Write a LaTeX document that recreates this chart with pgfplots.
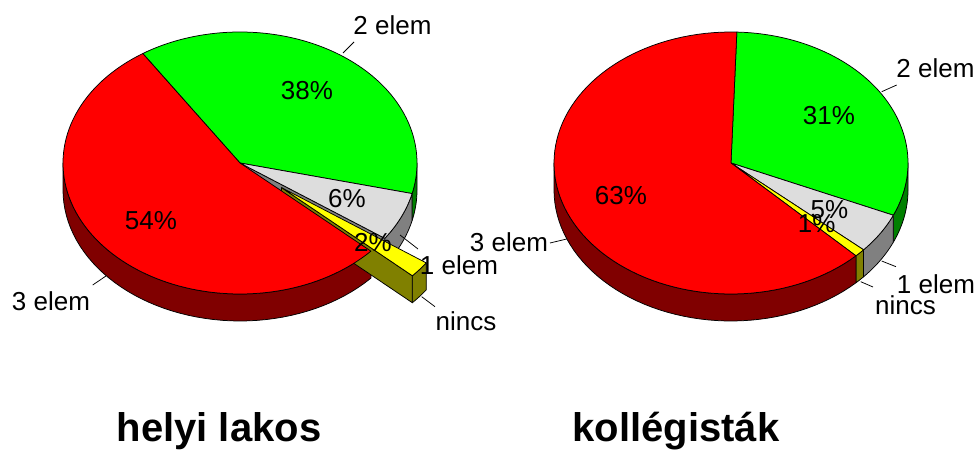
\documentclass[border=0pt]{standalone}
\usepackage{fontspec}
\setmainfont{Liberation Sans}
\usepackage{pgfplots}
\pgfplotsset{compat=1.18}
\usepgfplotslibrary{fillbetween}

\definecolor{gtop}{RGB}{0,255,0}
\definecolor{gside}{RGB}{0,128,0}
\definecolor{ltop}{RGB}{221,221,221}
\definecolor{lside}{RGB}{128,128,128}
\definecolor{ytop}{RGB}{255,255,0}
\definecolor{yside}{RGB}{128,128,0}
\definecolor{rtop}{RGB}{255,0,0}
\definecolor{rside}{RGB}{128,0,0}

% ---- data (percent) : 2 elem, 1 elem, nincs, 3 elem
\def\LA{38}\def\LB{6}\def\LC{2}\def\LD{54}   % helyi lakos
\def\RA{31}\def\RB{5}\def\RC{1}\def\RD{63}   % kollegistak

% ---- geometry
\def\RX{177}\def\RY{131}\def\D{27}
\def\Lcx{240}\def\Lcy{163}
\def\Rcx{731}\def\Rcy{163}

\pgfmathsetmacro\LsA{-33.3}
\pgfmathsetmacro\LsB{\LsA+3.6*\LA}
\pgfmathsetmacro\LsC{\LsB+3.6*\LB}
\pgfmathsetmacro\LsD{\LsC+3.6*\LC}
\pgfmathsetmacro\LsE{\LsD+3.6*\LD}

\pgfmathsetmacro\RsA{1.9}
\pgfmathsetmacro\RsB{\RsA+3.6*\RA}
\pgfmathsetmacro\RsC{\RsB+3.6*\RB}
\pgfmathsetmacro\RsD{\RsC+3.6*\RC}
\pgfmathsetmacro\RsE{\RsD+3.6*\RD}

% exploded slice (nincs, left pie)
\pgfmathsetmacro\Ymid{(\LsC+\LsD)/2}
\pgfmathsetmacro\Ox{\Lcx+0.3*\RX*sin(\Ymid)}
\pgfmathsetmacro\Oy{\Lcy-0.3*\RY*cos(\Ymid)}
\pgfmathsetmacro\Oyd{\Oy+\D}
\pgfmathsetmacro\YFx{\Ox+\RX*sin(\LsD)}
\pgfmathsetmacro\YFy{\Oy-\RY*cos(\LsD)}
\pgfmathsetmacro\YFyd{\YFy+\D}
% grey radial face (left pie)
\pgfmathsetmacro\GFx{\Lcx+\RX*sin(\LsC)}
\pgfmathsetmacro\GFy{\Lcy-\RY*cos(\LsC)}
\pgfmathsetmacro\GFyd{\GFy+\D}
\pgfmathsetmacro\Lcyd{\Lcy+\D}

\newcommand{\TopSlice}[5]{%
  \addplot[fill=#5, draw=black, line width=0.75pt, line join=round,
    domain=#3:#4, samples=90, variable=\t]
    ({#1+\RX*sin(\t)}, {#2-\RY*cos(\t)}) -- (axis cs:#1,#2) -- cycle;
}
\newcommand{\SideFace}[6]{%
  \addplot[draw=none, forget plot, name path=T#6, domain=#3:#4, samples=50, variable=\t]
    ({#1+\RX*sin(\t)}, {#2-\RY*cos(\t)});
  \addplot[draw=none, forget plot, name path=B#6, domain=#3:#4, samples=50, variable=\t]
    ({#1+\RX*sin(\t)}, {#2+\D-\RY*cos(\t)});
  \addplot[fill=#5, draw=black, line width=0.75pt, line join=round] fill between[of=T#6 and B#6];
}
\newcommand{\lab}{\fontsize{26}{26}\selectfont}

\begin{document}
\begin{tikzpicture}
\begin{axis}[
  width=979pt, height=452pt, scale only axis,
  xmin=0, xmax=979, ymin=0, ymax=452, y dir=reverse,
  hide axis, clip=false]

% keep the full canvas as bounding box
\path (axis cs:0,0) rectangle (axis cs:979,452);

% ===== left pie: helyi lakos =====
\SideFace{\Lcx}{\Lcy}{90}{\LsB}{gside}{la}
\SideFace{\Lcx}{\Lcy}{\LsB}{\LsC}{lside}{lb}
\addplot[fill=lside, draw=black, line width=0.75pt, line join=round]
  coordinates {(\Lcx,\Lcy) (\GFx,\GFy) (\GFx,\GFyd) (\Lcx,\Lcyd)} -- cycle;
\TopSlice{\Lcx}{\Lcy}{\LsA}{\LsB}{gtop}
\TopSlice{\Lcx}{\Lcy}{\LsB}{\LsC}{ltop}
\addplot[fill=yside, draw=black, line width=0.75pt, line join=round]
  coordinates {(\Ox,\Oy) (\YFx,\YFy) (\YFx,\YFyd) (\Ox,\Oyd)} -- cycle;
\SideFace{\Ox}{\Oy}{\LsC}{\LsD}{yside}{lc}
\TopSlice{\Ox}{\Oy}{\LsC}{\LsD}{ytop}
\SideFace{\Lcx}{\Lcy}{\LsD}{270}{rside}{ld}
\TopSlice{\Lcx}{\Lcy}{\LsD}{\LsE}{rtop}

% ===== right pie: kollegistak =====
\SideFace{\Rcx}{\Rcy}{90}{\RsB}{gside}{ra}
\SideFace{\Rcx}{\Rcy}{\RsB}{\RsC}{lside}{rb}
\SideFace{\Rcx}{\Rcy}{\RsC}{\RsD}{yside}{rc}
\SideFace{\Rcx}{\Rcy}{\RsD}{270}{rside}{rd}
\TopSlice{\Rcx}{\Rcy}{\RsA}{\RsB}{gtop}
\TopSlice{\Rcx}{\Rcy}{\RsB}{\RsC}{ltop}
\TopSlice{\Rcx}{\Rcy}{\RsC}{\RsD}{ytop}
\TopSlice{\Rcx}{\Rcy}{\RsD}{\RsE}{rtop}

% ===== percentage labels =====
\node[anchor=base, font=\lab] at (axis cs:307,100) {38\%};
\node[anchor=base, font=\lab] at (axis cs:347,208) {6\%};
\node[anchor=base, font=\lab] at (axis cs:151,230) {54\%};
\node[anchor=base, font=\lab] at (axis cs:373,251.5) {2\%};
\node[anchor=base, font=\lab] at (axis cs:829,125) {31\%};
\node[anchor=base, font=\lab] at (axis cs:621,205) {63\%};
\node[anchor=base, font=\lab] at (axis cs:829.5,219) {5\%};
\node[anchor=base, font=\lab] at (axis cs:816.7,233) {1\%};

% ===== category labels and leaders =====
\draw[line width=0.75pt] (axis cs:343,53) -- (axis cs:354,42);
\node[anchor=base, font=\lab] at (axis cs:392.5,35) {2 elem};
\draw[line width=0.75pt] (axis cs:400,235) -- (axis cs:418,249);
\node[anchor=base, font=\lab] at (axis cs:459,274) {1 elem};
\draw[line width=0.75pt] (axis cs:421.7,296.7) -- (axis cs:435,306.7);
\node[anchor=base, font=\lab] at (axis cs:466,330) {nincs};
\draw[line width=0.75pt] (axis cs:92.7,285) -- (axis cs:106,276);
\node[anchor=base, font=\lab] at (axis cs:51,310) {3 elem};

\draw[line width=0.75pt] (axis cs:881.7,91.7) -- (axis cs:896.7,85);
\node[anchor=base, font=\lab] at (axis cs:935.5,78) {2 elem};
\draw[line width=0.75pt] (axis cs:550,243) -- (axis cs:566.7,239);
\node[anchor=base, font=\lab] at (axis cs:509,251.5) {3 elem};
\draw[line width=0.75pt] (axis cs:881.7,261) -- (axis cs:896,266.7);
\node[anchor=base, font=\lab] at (axis cs:936,293) {1 elem};
\draw[line width=0.75pt] (axis cs:860.7,281.7) -- (axis cs:873,287);
\node[anchor=base, font=\lab] at (axis cs:905.5,314) {nincs};

% ===== titles =====
\node[anchor=base, font=\fontsize{40}{40}\selectfont\bfseries] at (axis cs:219,441) {helyi lakos};
\node[anchor=base, font=\fontsize{40}{40}\selectfont\bfseries] at (axis cs:676,441) {kollégisták};
\end{axis}
\end{tikzpicture}
\end{document}
